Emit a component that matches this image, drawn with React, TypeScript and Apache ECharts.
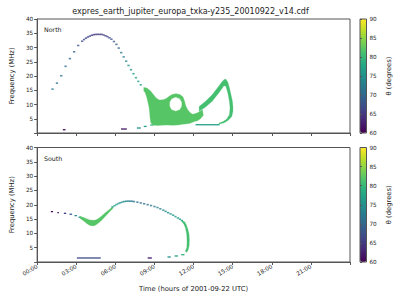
import React, { useEffect, useRef } from 'react';
import * as echarts from 'echarts';

const TITLE = 'expres_earth_jupiter_europa_txka-y235_20010922_v14.cdf';
const X_NAME = 'Time (hours of 2001-09-22 UTC)';
const Y_NAME = 'Frequency (MHz)';
const CB_NAME = 'θ (degrees)';
const PANEL_LABELS = ['North', 'South'];
const VIRIDIS = ['#440154', '#482475', '#414487', '#355f8d', '#2a788e', '#21918c', '#22a884', '#44bf70', '#7ad151', '#bddf26', '#fde725'];

// North: sampled points [hours, MHz, theta]
const northDots = [
  [1.18, 15.4, 72], [1.52, 17.5, 72], [1.85, 20.1, 71], [2.18, 23.4, 71], [2.51, 26.1, 70], [2.84, 28.5, 69],
  [3.15, 30.7, 68], [3.45, 32.2, 67], [3.6, 32.8, 67], [3.75, 33.3, 66], [3.9, 33.7, 66], [4.05, 34.0, 66],
  [4.2, 34.3, 65], [4.35, 34.5, 65], [4.5, 34.6, 65], [4.65, 34.6, 65], [4.8, 34.6, 65], [4.95, 34.6, 65],
  [5.1, 34.4, 66], [5.25, 34.1, 66], [5.4, 33.8, 66], [5.55, 33.4, 67], [5.7, 32.9, 67],
  [5.89, 32.1, 68], [6.08, 31.1, 69], [6.26, 29.8, 70], [6.45, 28.2, 72], [6.64, 26.7, 73], [6.83, 25.2, 74],
  [7.01, 23.7, 75], [7.2, 22.2, 76], [7.39, 20.8, 76], [7.58, 19.4, 77], [7.76, 18.1, 77], [7.95, 16.9, 78],
];
// North: short dashes [hours start, MHz, theta, hours end]
const northDashes = [
  [1.97, 1.15, 61, 2.18], [6.43, 1.4, 62, 6.88], [7.65, 1.75, 75, 7.95], [8.18, 2.3, 77, 8.4],
  [8.68, 2.8, 79, 8.93], [12.15, 2.9, 77, 14.0],
];
// North: wide emission region outline [hours, MHz] (outer boundary, then the hole)
const northBlobOuter = [
  [10.65, 13.8], [10.95, 13.5], [11.18, 12.7], [11.3, 11.3], [11.4, 9.6], [11.55, 8.2], [11.74, 7.1],
  [11.93, 6.6], [12.15, 6.8], [12.38, 7.3], [12.68, 8.2], [12.75, 6.2], [12.53, 5.0], [12.3, 4.3],
  [12.05, 4.0], [11.68, 3.3], [11.18, 3.1], [10.8, 2.8], [10.43, 2.7], [9.92, 2.8], [9.53, 2.7],
  [9.17, 2.6], [8.89, 2.8], [8.72, 3.6], [8.66, 5.4], [8.63, 7.1], [8.59, 8.9], [8.51, 10.6],
  [8.4, 12.7], [8.29, 14.1], [8.18, 14.8], [8.18, 16.0], [8.42, 15.8], [8.7, 14.7], [8.93, 13.4],
  [9.15, 12.2], [9.38, 11.6], [9.68, 11.7], [9.9, 12.1], [10.13, 12.9], [10.35, 13.5], [10.65, 13.8],
];
const northBlobHole = [
  [10.63, 12.6], [10.31, 12.0], [10.16, 10.8], [10.16, 9.4], [10.31, 8.2], [10.63, 7.6],
  [10.95, 8.2], [11.1, 9.4], [11.1, 10.8], [10.95, 12.0], [10.63, 12.6],
];
const northLoopOuter = [
  [12.43, 9.3], [12.92, 11.1], [13.43, 13.4], [13.93, 16.4], [14.18, 18.0], [14.35, 18.8], [14.48, 18.9],
  [14.63, 17.8], [14.75, 15.8], [14.87, 13.4], [14.98, 11.1], [15.02, 9.3], [15.02, 7.6], [14.93, 5.8],
  [14.72, 4.7], [14.55, 4.1], [14.3, 3.5], [13.95, 3.2],
];
const northLoopInner = [
  [13.95, 3.5], [14.27, 4.0], [14.55, 4.9], [14.75, 6.4], [14.8, 8.8], [14.75, 11.1], [14.63, 14.0],
  [14.48, 16.4], [14.33, 16.6], [13.93, 14.0], [13.43, 11.1], [12.92, 9.1], [12.43, 7.6],
];
const northPolyTheta = [82, 81];

// South
const southDots = [
  [5.78, 19.25, 77], [5.93, 19.65, 77], [6.08, 20.07, 76], [6.23, 20.42, 76], [6.38, 20.7, 75], [6.53, 20.94, 75],
  [6.68, 21.11, 74], [6.83, 21.22, 74], [6.98, 21.25, 73], [7.13, 21.25, 73], [7.28, 21.22, 72], [7.43, 21.11, 72],
  [7.69, 20.9, 71], [7.95, 20.63, 71], [8.21, 20.35, 71], [8.48, 20.03, 71], [8.74, 19.72, 72], [9.0, 19.37, 72],
  [9.23, 19.03, 73], [9.45, 18.6, 73], [9.68, 18.12, 74], [9.86, 17.67, 74], [10.05, 17.22, 75], [10.24, 16.8, 75],
  [10.43, 16.35, 76], [10.61, 15.86, 76], [10.8, 15.4, 77], [10.95, 14.96, 77], [11.1, 14.5, 78],
];
const southDashes = [
  [1.05, 17.6, 61, 1.22], [1.55, 17.25, 62, 1.67], [2.05, 17.0, 65, 2.23], [2.48, 16.7, 69, 2.68],
  [2.87, 16.2, 73, 3.05], [3.17, 15.65, 76, 3.38], [3.05, 1.4, 67, 4.88], [8.48, 1.4, 62, 8.8],
  [10.0, 1.75, 75, 10.25], [10.55, 2.1, 77, 10.8], [11.05, 2.55, 79, 11.3],
];
const southValley = [
  [3.3, 15.9], [3.53, 15.6], [3.83, 15.05], [4.05, 14.7], [4.3, 14.55], [4.5, 14.7], [4.73, 15.25],
  [4.95, 16.1], [5.18, 17.0], [5.4, 17.85], [5.63, 18.7], [5.8, 19.3],
  [5.8, 18.6], [5.63, 17.9], [5.4, 16.8], [5.18, 15.7], [4.95, 14.6], [4.73, 13.7], [4.5, 12.9],
  [4.3, 12.6], [4.05, 12.75], [3.83, 13.4], [3.53, 14.5], [3.3, 15.2],
];
const southEdge = [
  [11.1, 14.6], [11.33, 14.0], [11.44, 13.0], [11.55, 11.6], [11.65, 9.85], [11.68, 7.75], [11.66, 5.7],
  [11.59, 4.3], [11.48, 3.4], [11.36, 3.75], [11.48, 5.0], [11.5, 7.0], [11.48, 9.5], [11.38, 11.9],
  [11.25, 13.3], [11.1, 14.1],
];
const southPolyTheta = [82, 81];

const northPolys = [[...northBlobOuter, ...northBlobHole], [...northLoopOuter, ...northLoopInner]];
const southPolys = [southValley, southEdge];

const FONT = 'DejaVu Sans';
const TXT = '#222';
const AX = '#555';

function pad2(v: number) {
  return (v < 10 ? '0' : '') + v + ':00';
}

function dashSeries(data: number[][], xi: number) {
  return {
    type: 'custom',
    xAxisIndex: xi,
    yAxisIndex: xi,
    data,
    encode: { x: 0, y: 1 },
    renderItem: (params: any, api: any) => {
      const a = api.coord([api.value(0), api.value(1)]);
      const b = api.coord([api.value(3), api.value(1)]);
      return { type: 'line', shape: { x1: a[0], y1: a[1], x2: b[0], y2: b[1] }, style: { stroke: api.visual('color'), lineWidth: 1.3 } };
    },
  };
}

function polySeries(polys: number[][][], thetas: number[], xi: number) {
  return {
    type: 'custom',
    xAxisIndex: xi,
    yAxisIndex: xi,
    data: polys.map((p, i) => [p[0][0], p[0][1], thetas[i], i]),
    encode: { x: 0, y: 1 },
    renderItem: (params: any, api: any) => {
      const pts = polys[api.value(3)].map((p) => api.coord(p));
      return { type: 'polygon', shape: { points: pts }, style: { fill: api.visual('color'), stroke: api.visual('color'), lineWidth: 0.3 } };
    },
  };
}

function dotSeries(data: number[][], xi: number) {
  return {
    type: 'scatter',
    xAxisIndex: xi,
    yAxisIndex: xi,
    data,
    symbol: 'rect',
    symbolSize: [2.3, 1.6],
  };
}

const GRIDS = [
  { left: 31, top: 19, width: 319, height: 114 },
  { left: 31, top: 147.5, width: 319, height: 114.5 },
];

function buildOption() {
  const timeAxis = (i: number) => ({
    type: 'value',
    gridIndex: i,
    min: 0,
    max: 24,
    interval: 3,
    axisLine: { show: true, lineStyle: { color: AX, width: 1 } },
    axisTick: { show: true, length: 3, lineStyle: { color: AX } },
    splitLine: { show: false },
    axisLabel: i === 0 ? { show: false } : {
      show: true, rotate: 30, fontSize: 5.7, fontFamily: FONT, color: TXT, margin: 4,
      formatter: (v: number) => (v < 24 ? pad2(v) : ''),
    },
    name: i === 1 ? X_NAME : '',
    nameLocation: 'middle',
    nameGap: 23,
    nameTextStyle: { fontSize: 6.8, fontFamily: FONT, color: TXT },
  });
  const freqAxis = (i: number) => ({
    type: 'value',
    gridIndex: i,
    min: 0,
    max: 40,
    interval: 5,
    axisLine: { show: true, lineStyle: { color: AX, width: 1 } },
    axisTick: { show: true, length: 3, lineStyle: { color: AX } },
    splitLine: { show: false },
    axisLabel: { fontSize: 5.7, fontFamily: FONT, color: TXT, margin: 4, formatter: (v: number) => (v === 0 ? '' : String(v)) },
    name: Y_NAME,
    nameLocation: 'middle',
    nameGap: 17,
    nameTextStyle: { fontSize: 6.8, fontFamily: FONT, color: TXT },
  });
  const cbGrid = (g: any) => ({ left: 360, top: g.top, width: 6.5, height: g.height, show: true, borderColor: AX, borderWidth: 1, backgroundColor: 'transparent', z: 10 });
  const cbX = (i: number) => ({ type: 'value', gridIndex: i, show: false, min: 0, max: 1 });
  const cbY = (i: number) => ({
    type: 'value',
    gridIndex: i,
    position: 'right',
    min: 60,
    max: 90,
    interval: 5,
    z: 10,
    axisLine: { show: false },
    axisTick: { show: true, length: 2, lineStyle: { color: AX } },
    splitLine: { show: false },
    axisLabel: { fontSize: 5.7, fontFamily: FONT, color: TXT, margin: 3 },
    name: CB_NAME,
    nameLocation: 'middle',
    nameRotate: 90,
    nameGap: 19,
    nameTextStyle: { fontSize: 6.8, fontFamily: FONT, color: TXT },
  });
  const vm = (g: any, series: number[]) => ({
    type: 'continuous',
    seriesIndex: series,
    dimension: 2,
    min: 60,
    max: 90,
    inRange: { color: VIRIDIS },
    calculable: false,
    hoverLink: false,
    orient: 'vertical',
    left: 360,
    top: g.top,
    itemWidth: 6.5,
    itemHeight: g.height,
    padding: 0,
    text: null,
    show: true,
  });
  return {
    animation: false,
    backgroundColor: '#fff',
    grid: [
      { ...GRIDS[0], show: true, borderColor: AX, borderWidth: 1 },
      { ...GRIDS[1], show: true, borderColor: AX, borderWidth: 1 },
      cbGrid(GRIDS[0]),
      cbGrid(GRIDS[1]),
    ],
    xAxis: [timeAxis(0), timeAxis(1), cbX(2), cbX(3)],
    yAxis: [freqAxis(0), freqAxis(1), cbY(2), cbY(3)],
    visualMap: [vm(GRIDS[0], [0, 1, 2]), vm(GRIDS[1], [3, 4, 5])],
    graphic: [
      { type: 'text', x: 190.5, y: 11, style: { text: TITLE, fontSize: 8, fontFamily: FONT, fill: TXT, align: 'center', verticalAlign: 'middle' } },
      { type: 'text', x: 44, y: 29.5, style: { text: PANEL_LABELS[0], fontSize: 6.3, fontFamily: FONT, fill: TXT, align: 'left', verticalAlign: 'middle' } },
      { type: 'text', x: 44, y: 158.3, style: { text: PANEL_LABELS[1], fontSize: 6.3, fontFamily: FONT, fill: TXT, align: 'left', verticalAlign: 'middle' } },
    ],
    series: [
      dotSeries(northDots, 0),
      dashSeries(northDashes, 0),
      polySeries(northPolys, northPolyTheta, 0),
      dotSeries(southDots, 1),
      dashSeries(southDashes, 1),
      polySeries(southPolys, southPolyTheta, 1),
    ],
  };
}

export default function App() {
  const ref = useRef<HTMLDivElement>(null);
  useEffect(() => {
    const chart = echarts.init(ref.current!, null, { renderer: 'svg' });
    chart.setOption(buildOption() as any);
    return () => chart.dispose();
  }, []);
  return <div ref={ref} style={{ position: 'fixed', left: 0, top: 0, width: 400, height: 300 }} />;
}
